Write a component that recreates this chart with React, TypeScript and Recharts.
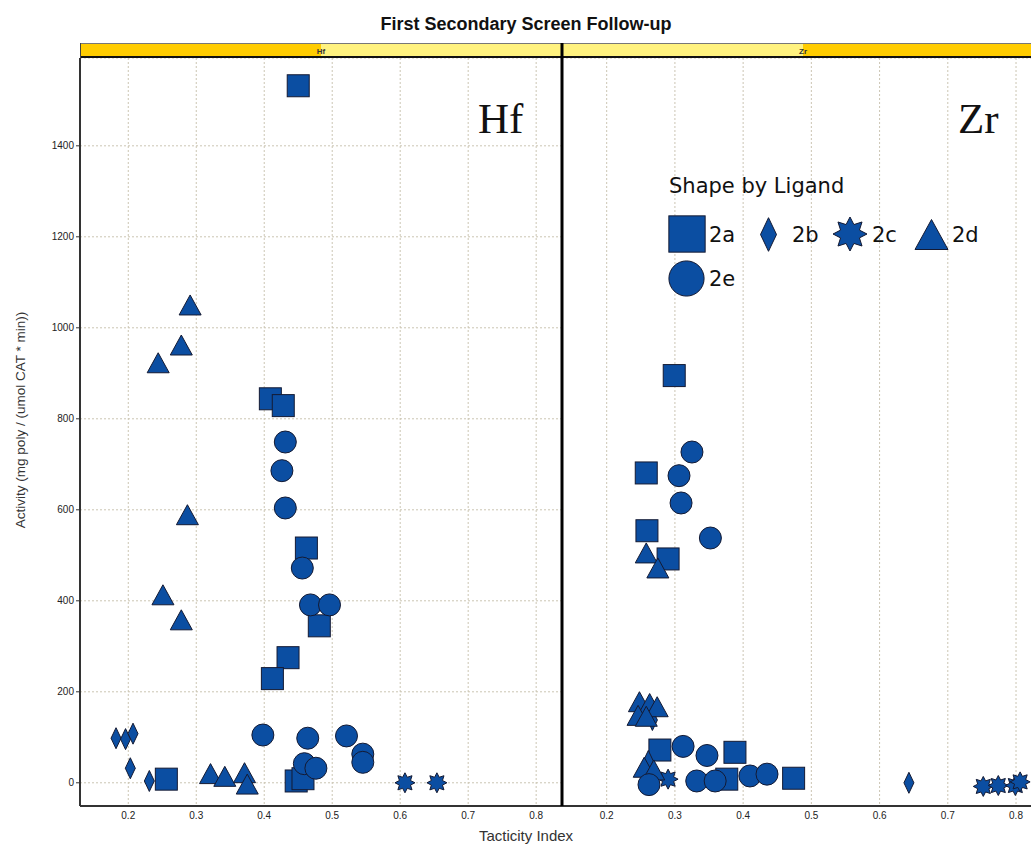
import { ScatterChart, Scatter, XAxis, YAxis, CartesianGrid } from 'recharts';

// Tacticity index vs activity, one list per ligand and metal
const hf2a: [number, number][] = [
  [0.45, 1532], [0.409, 844], [0.428, 829], [0.462, 516], [0.481, 345],
  [0.435, 275], [0.412, 229], [0.256, 8], [0.447, 4], [0.457, 9],
];
const hf2b: [number, number][] = [[0.182, 98], [0.196, 96], [0.207, 108], [0.203, 32], [0.231, 4]];
const hf2c: [number, number][] = [[0.607, 0], [0.654, 0]];
const hf2d: [number, number][] = [
  [0.291, 1048], [0.278, 960], [0.244, 921], [0.287, 587], [0.251, 411],
  [0.278, 356], [0.321, 18], [0.342, 12], [0.371, 20], [0.375, -5],
];
const hf2e: [number, number][] = [
  [0.431, 749], [0.426, 686], [0.431, 604], [0.456, 472], [0.468, 391], [0.496, 391],
  [0.398, 105], [0.464, 98], [0.521, 103], [0.545, 63], [0.545, 45], [0.459, 42], [0.476, 32],
];

const zr2a: [number, number][] = [
  [0.299, 895], [0.258, 681], [0.259, 554], [0.29, 492], [0.278, 72],
  [0.388, 67], [0.376, 8], [0.474, 10],
];
const zr2b: [number, number][] = [[0.267, 138], [0.261, 48], [0.643, 0]];
const zr2c: [number, number][] = [[0.29, 8], [0.752, -8], [0.774, -6], [0.799, -6], [0.806, 2]];
const zr2d: [number, number][] = [
  [0.258, 503], [0.275, 470], [0.248, 176], [0.263, 172], [0.274, 165],
  [0.246, 146], [0.258, 144], [0.255, 32], [0.269, 26],
];
const zr2e: [number, number][] = [
  [0.325, 727], [0.306, 675], [0.309, 615], [0.352, 538], [0.312, 80], [0.347, 60],
  [0.262, -4], [0.332, 4], [0.359, 4], [0.41, 15], [0.435, 19],
];

const xTicks = [0.2, 0.3, 0.4, 0.5, 0.6, 0.7, 0.8];
const yTicks = [0, 200, 400, 600, 800, 1000, 1200, 1400];

const FILL = '#0b4ea2';
const EDGE = '#141a33';
const FONT = '"Liberation Sans", Arial, sans-serif';

type Kind = 'square' | 'diamond' | 'star' | 'triangle' | 'circle';

function starPoints(cx: number, cy: number, ro: number, ri: number, n: number) {
  const pts: string[] = [];
  for (let i = 0; i < n * 2; i++) {
    const r = i % 2 === 0 ? ro : ri;
    const a = (Math.PI * i) / n - Math.PI / 2;
    pts.push(`${cx + r * Math.cos(a)},${cy + r * Math.sin(a)}`);
  }
  return pts.join(' ');
}

function Marker({ kind, cx, cy, s = 1 }: { kind: Kind; cx: number; cy: number; s?: number }) {
  const common = { fill: FILL, stroke: EDGE, strokeWidth: 1 };
  switch (kind) {
    case 'square':
      return <rect x={cx - 11 * s} y={cy - 11 * s} width={22 * s} height={22 * s} {...common} />;
    case 'circle':
      return <circle cx={cx} cy={cy} r={11 * s} {...common} />;
    case 'triangle':
      return (
        <polygon
          points={`${cx},${cy - 11 * s} ${cx + 11 * s},${cy + 9 * s} ${cx - 11 * s},${cy + 9 * s}`}
          {...common}
        />
      );
    case 'diamond':
      return (
        <polygon
          points={`${cx},${cy - 10.5 * s} ${cx + 5 * s},${cy} ${cx},${cy + 10.5 * s} ${cx - 5 * s},${cy}`}
          {...common}
        />
      );
    case 'star':
      return <polygon points={starPoints(cx, cy, 10 * s, 6 * s, 8)} {...common} />;
  }
}

const toPts = (arr: [number, number][]) => arr.map(([x, y]) => ({ x, y }));
const shapeOf = (kind: Kind) => (p: any) => <Marker kind={kind} cx={p.cx} cy={p.cy} />;

type PanelProps = {
  left: number;
  width: number;
  xDomain: [number, number];
  withAxis: boolean;
  series: { kind: Kind; data: [number, number][] }[];
};

function Panel({ left, width, xDomain, withAxis, series }: PanelProps) {
  const tick = { fontSize: 10, fill: '#222', fontFamily: FONT };
  return (
    <div style={{ position: 'absolute', left, top: 0 }}>
      <ScatterChart width={width} height={845} margin={{ top: 58, right: 0, bottom: 0, left: withAxis ? 0 : 3 }}>
        <CartesianGrid stroke="#cbc5b3" strokeDasharray="2 2" />
        <XAxis
          type="number"
          dataKey="x"
          domain={xDomain}
          ticks={xTicks}
          allowDataOverflow
          height={39}
          tick={tick}
          tickLine={false}
          tickSize={6}
          tickMargin={0}
          axisLine={{ stroke: '#333', strokeWidth: 2 }}
        />
        <YAxis
          type="number"
          dataKey="y"
          domain={[-51, 1593]}
          ticks={yTicks}
          allowDataOverflow
          width={withAxis ? 80 : 0}
          tick={withAxis ? tick : false}
          tickSize={4}
          tickMargin={2}
          tickLine={withAxis ? { stroke: '#333' } : false}
          axisLine={{ stroke: '#333', strokeWidth: 2 }}
        />
        {series.map((s) => (
          <Scatter key={s.kind} data={toPts(s.data)} shape={shapeOf(s.kind)} isAnimationActive={false} />
        ))}
      </ScatterChart>
    </div>
  );
}

function Overlay() {
  return (
    <svg width={1031} height={845} style={{ position: 'absolute', left: 0, top: 0, pointerEvents: 'none' }}>
      <text x={526} y={30} textAnchor="middle" fontFamily={FONT} fontWeight="bold" fontSize={18} fill="#111">
        First Secondary Screen Follow-up
      </text>

      {/* trellis header strips */}
      <rect x={80} y={43} width={241} height={14} fill="#ffcc00" />
      <rect x={321} y={43} width={241} height={14} fill="#fff27f" />
      <rect x={562} y={43} width={241} height={14} fill="#fff27f" />
      <rect x={803} y={43} width={241} height={14} fill="#ffcc00" />
      <line x1={80} x2={1044} y1={43.5} y2={43.5} stroke="#777" />
      <line x1={80} x2={1044} y1={57} y2={57} stroke="#111" strokeWidth={2} />
      <line x1={80.5} x2={80.5} y1={43} y2={58} stroke="#444" />
      {/* panel divider */}
      <line x1={562} x2={562} y1={43} y2={806} stroke="#000" strokeWidth={3} />
      <text x={321} y={54} textAnchor="middle" fontFamily={FONT} fontWeight="bold" fontSize={8} fill="#333">
        Hf
      </text>
      <text x={803} y={54} textAnchor="middle" fontFamily={FONT} fontWeight="bold" fontSize={8} fill="#333">
        Zr
      </text>

      <text x={478} y={133} fontFamily='"Liberation Serif", serif' fontSize={43} fill="#111">
        Hf
      </text>
      <text x={958} y={133} fontFamily='"Liberation Serif", serif' fontSize={43} fill="#111">
        Zr
      </text>

      <text x={526} y={841} textAnchor="middle" fontFamily={FONT} fontSize={15} fill="#333">
        Tacticity Index
      </text>
      <text
        transform="translate(25,420) rotate(-90)"
        textAnchor="middle"
        fontFamily={FONT}
        fontSize={13.5}
        fill="#333"
      >
        Activity (mg poly / (umol CAT * min))
      </text>

      {/* legend */}
      <g transform="translate(640,160)" fontFamily='"DejaVu Sans", sans-serif' fontSize={21} fill="#111">
        <text x={29} y={33}>Shape by Ligand</text>
        <Marker kind="square" cx={47} cy={74} s={1.65} />
        <text x={69} y={82}>2a</text>
        <Marker kind="diamond" cx={128.5} cy={74.5} s={1.6} />
        <text x={152} y={82}>2b</text>
        <Marker kind="star" cx={210} cy={74} s={1.7} />
        <text x={232} y={82}>2c</text>
        <Marker kind="triangle" cx={291.5} cy={76} s={1.5} />
        <text x={312} y={82}>2d</text>
        <Marker kind="circle" cx={46.5} cy={118.5} s={1.6} />
        <text x={69} y={126}>2e</text>
      </g>
    </svg>
  );
}

export default function App() {
  return (
    <div
      style={{
        position: 'absolute',
        left: 0,
        top: 0,
        width: 1031,
        height: 845,
        overflow: 'hidden',
        background: '#fff',
      }}
    >
      <Panel
        left={0}
        width={562}
        xDomain={[0.129, 0.838]}
        withAxis
        series={[
          { kind: 'square', data: hf2a },
          { kind: 'diamond', data: hf2b },
          { kind: 'star', data: hf2c },
          { kind: 'triangle', data: hf2d },
          { kind: 'circle', data: hf2e },
        ]}
      />
      <Panel
        left={559}
        width={485}
        xDomain={[0.1345, 0.841]}
        withAxis={false}
        series={[
          { kind: 'square', data: zr2a },
          { kind: 'diamond', data: zr2b },
          { kind: 'star', data: zr2c },
          { kind: 'triangle', data: zr2d },
          { kind: 'circle', data: zr2e },
        ]}
      />
      <Overlay />
    </div>
  );
}
